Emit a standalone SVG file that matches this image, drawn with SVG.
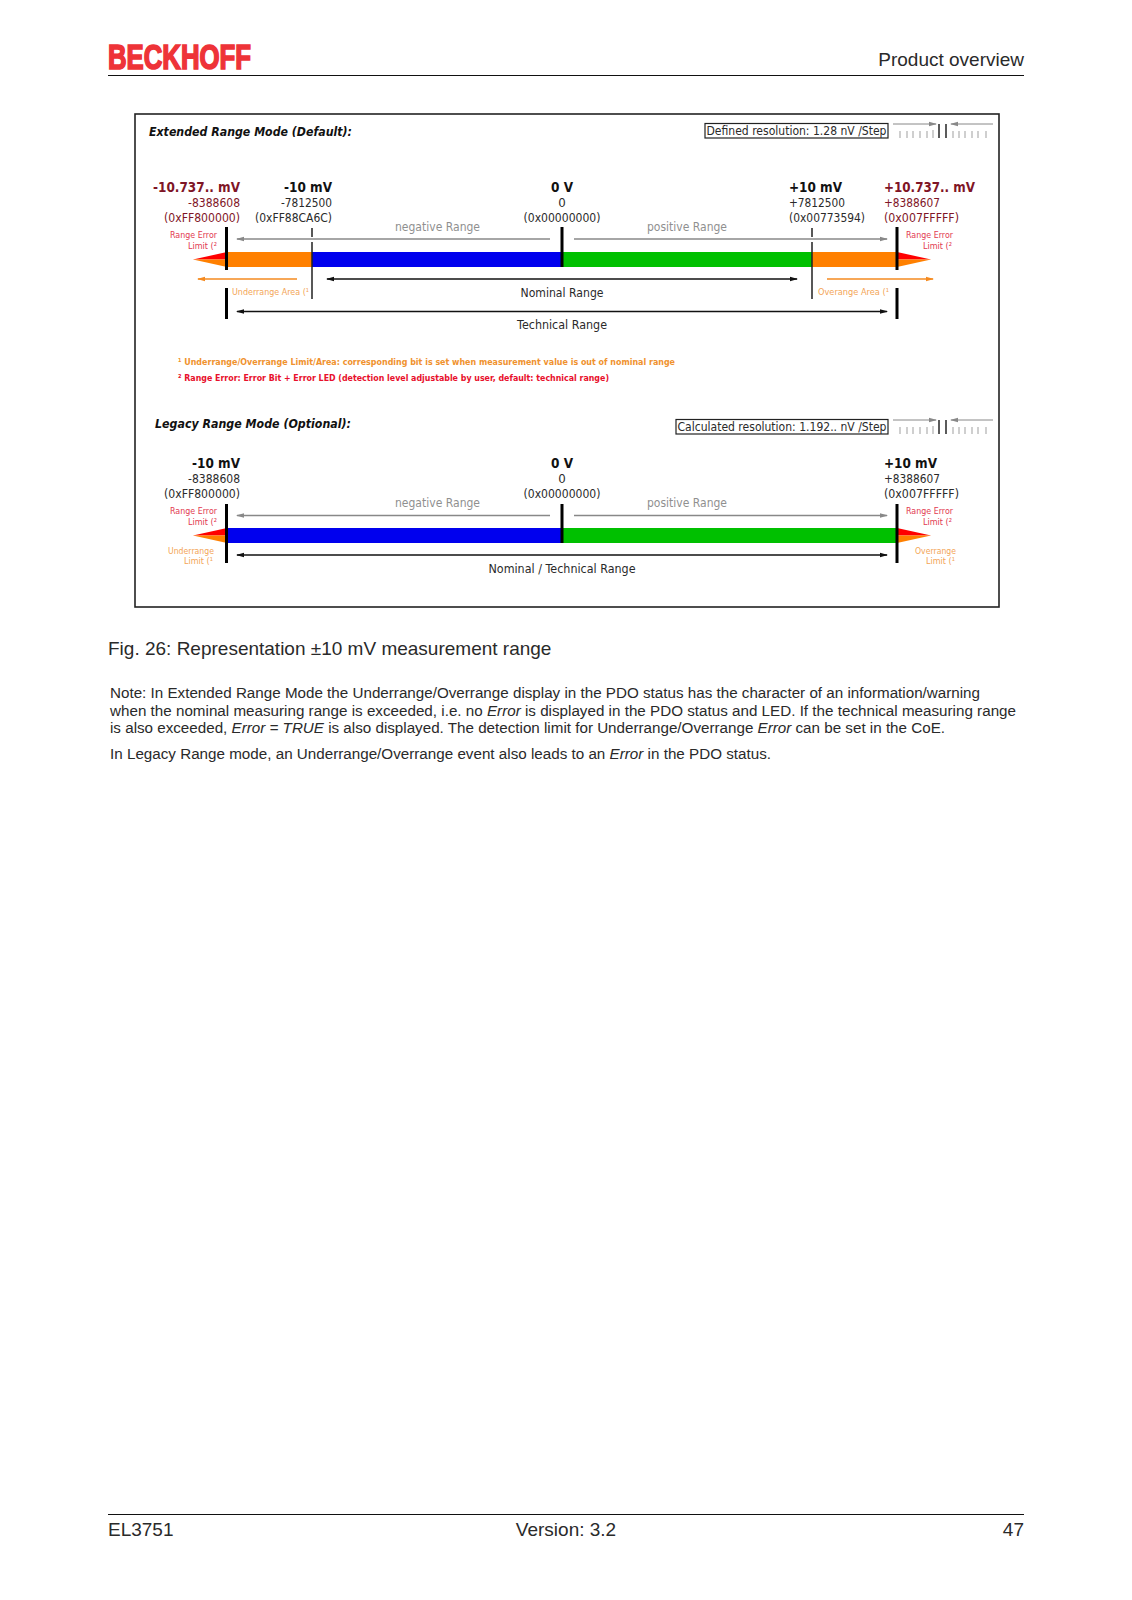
<svg xmlns="http://www.w3.org/2000/svg" width="1132" height="1600" viewBox="0 0 1132 1600">
<style>
.page{font-family:"Liberation Sans",Arial,sans-serif;fill:#2a2a2a}
.h{font-size:19px}
.n{font-size:15.2px}
.d{font-family:"DejaVu Sans",Verdana,sans-serif;font-size:11.8px;fill:#2a2a2a}
.b{font-family:"DejaVu Sans",Verdana,sans-serif;font-size:13.6px;font-weight:700;fill:#111}
.dr{fill:#7f1526}
.g{fill:#8f8f8f;font-size:12.4px}
.s{font-family:"DejaVu Sans",Verdana,sans-serif;font-size:8.8px}
.r{fill:#e23a50}
.o{fill:#f3a556}
.t{font-family:"DejaVu Sans",Verdana,sans-serif;font-size:13px;font-weight:700;font-style:italic;fill:#111}
.f{font-family:"DejaVu Sans",Verdana,sans-serif;font-size:8.8px;font-weight:700}
.e{text-anchor:end}
.m{text-anchor:middle}
.tk{stroke:#000;stroke-width:3;fill:none}
.th{stroke:#222;stroke-width:1.5;fill:none}
.ln{stroke-width:1.5;fill:none}
.box{fill:#fff;stroke:#222;stroke-width:1.2}
.tick{stroke:#b0b0b0;stroke-width:1.2}
</style>
<defs>
<marker id="ak" markerWidth="8" markerHeight="6" refX="7" refY="3" orient="auto-start-reverse" markerUnits="userSpaceOnUse"><path d="M0 .8L8 3L0 5.2z" fill="#111"/></marker>
<marker id="ag" markerWidth="8" markerHeight="6" refX="7" refY="3" orient="auto-start-reverse" markerUnits="userSpaceOnUse"><path d="M0 .8L8 3L0 5.2z" fill="#888"/></marker>
<marker id="ao" markerWidth="8" markerHeight="6" refX="7" refY="3" orient="auto-start-reverse" markerUnits="userSpaceOnUse"><path d="M0 .8L8 3L0 5.2z" fill="#f58a1f"/></marker>
</defs>
<rect width="1132" height="1600" fill="#fff"/>
<g id="header">
<text x="108" y="68.500" textLength="143" lengthAdjust="spacingAndGlyphs" font-family="Liberation Sans,Arial,sans-serif" font-size="34.5" font-weight="700" fill="#ee3338" stroke="#ee3338" stroke-width="1.7">BECKHOFF</text>
<text class="page h e" x="1024" y="65.500">Product overview</text>
<line x1="108" y1="75.500" x2="1024" y2="75.500" stroke="#111" stroke-width="1"/>
</g>
<rect id="frame" x="135" y="114" width="864" height="493" fill="#fff" stroke="#222" stroke-width="1.6"/>
<g id="extended-bar">
<rect x="227" y="252" width="85" height="15" fill="#ff8000"/>
<rect x="312" y="252" width="250" height="15" fill="#0000ee"/>
<rect x="562" y="252" width="250" height="15" fill="#00c000"/>
<rect x="812" y="252" width="85" height="15" fill="#ff8000"/>
<path d="M193 259.500L227 252V259.500z" fill="#f00"/><path d="M193 259.500L227 267V259.500z" fill="#ff8000"/>
<path d="M931 259.500L897 252V259.500z" fill="#f00"/><path d="M931 259.500L897 267V259.500z" fill="#ff8000"/>
</g>
<g id="legacy-bar">
<rect x="227" y="528" width="335" height="15" fill="#0000ee"/>
<rect x="562" y="528" width="335" height="15" fill="#00c000"/>
<path d="M193 535.500L227 528V535.500z" fill="#f00"/><path d="M193 535.500L227 543V535.500z" fill="#ff8000"/>
<path d="M931 535.500L897 528V535.500z" fill="#f00"/><path d="M931 535.500L897 543V535.500z" fill="#ff8000"/>
</g>
<g id="connectors">
<path class="tk" d="M226.500 227V270M226.500 288V319M562 227V267M897 227V270M897 288V319"/>
<path class="th" d="M312 228V237M312 242V299M812 228V237M812 242V299"/>
<path class="ln" stroke="#888" marker-end="url(#ag)" d="M550 239H237"/>
<path class="ln" stroke="#888" marker-end="url(#ag)" d="M574 239H887"/>
<path class="ln" stroke="#111" marker-start="url(#ak)" marker-end="url(#ak)" d="M327 279H797"/>
<path class="ln" stroke="#111" marker-start="url(#ak)" marker-end="url(#ak)" d="M237 311.500H887"/>
<path class="ln" stroke="#f58a1f" marker-end="url(#ao)" d="M297 279H198"/>
<path class="ln" stroke="#f58a1f" marker-end="url(#ao)" d="M827 279H933"/>
<path class="tk" d="M226.500 504V563M562 504V543M897 504V563"/>
<path class="ln" stroke="#888" marker-end="url(#ag)" d="M550 515.500H237"/>
<path class="ln" stroke="#888" marker-end="url(#ag)" d="M574 515.500H887"/>
<path class="ln" stroke="#111" marker-start="url(#ak)" marker-end="url(#ak)" d="M237 555H887"/>
</g>
<g id="extended-labels">
<text class="t" x="149" y="136" textLength="203" lengthAdjust="spacingAndGlyphs">Extended Range Mode (Default):</text>
<rect class="box" x="705" y="123.500" width="183" height="14.500"/>
<text class="d" x="706.500" y="135" textLength="180" lengthAdjust="spacingAndGlyphs">Defined resolution: 1.28 nV /Step</text>
<text class="b dr e" x="240" y="191.500" textLength="87" lengthAdjust="spacingAndGlyphs">-10.737.. mV</text>
<text class="d dr e" x="240" y="207" textLength="52" lengthAdjust="spacingAndGlyphs">-8388608</text>
<text class="d dr e" x="240" y="222" textLength="76" lengthAdjust="spacingAndGlyphs">(0xFF800000)</text>
<text class="b e" x="332" y="191.500" textLength="48" lengthAdjust="spacingAndGlyphs">-10 mV</text>
<text class="d e" x="332" y="207" textLength="51" lengthAdjust="spacingAndGlyphs">-7812500</text>
<text class="d e" x="332" y="222" textLength="77" lengthAdjust="spacingAndGlyphs">(0xFF88CA6C)</text>
<text class="b m" x="562" y="191.500" textLength="22" lengthAdjust="spacingAndGlyphs">0 V</text>
<text class="d m" x="562" y="207">0</text>
<text class="d m" x="562" y="222" textLength="77" lengthAdjust="spacingAndGlyphs">(0x00000000)</text>
<text class="b" x="789" y="191.500" textLength="53" lengthAdjust="spacingAndGlyphs">+10 mV</text>
<text class="d" x="789" y="207" textLength="56" lengthAdjust="spacingAndGlyphs">+7812500</text>
<text class="d" x="789" y="222" textLength="76" lengthAdjust="spacingAndGlyphs">(0x00773594)</text>
<text class="b dr" x="884" y="191.500" textLength="91" lengthAdjust="spacingAndGlyphs">+10.737.. mV</text>
<text class="d dr" x="884" y="207" textLength="56" lengthAdjust="spacingAndGlyphs">+8388607</text>
<text class="d dr" x="884" y="222" textLength="75" lengthAdjust="spacingAndGlyphs">(0x007FFFFF)</text>
<text class="d g" x="395" y="231" textLength="85" lengthAdjust="spacingAndGlyphs">negative Range</text>
<text class="d g" x="647" y="231" textLength="80" lengthAdjust="spacingAndGlyphs">positive Range</text>
<text class="s r e" x="217" y="238" textLength="47" lengthAdjust="spacingAndGlyphs">Range Error</text>
<text class="s r e" x="217" y="248.500" textLength="29" lengthAdjust="spacingAndGlyphs">Limit (²</text>
<text class="s r" x="906" y="238" textLength="47" lengthAdjust="spacingAndGlyphs">Range Error</text>
<text class="s r e" x="952" y="248.500" textLength="29" lengthAdjust="spacingAndGlyphs">Limit (²</text>
<text class="s o" x="232" y="295" textLength="77" lengthAdjust="spacingAndGlyphs">Underrange Area (¹</text>
<text class="s o" x="818" y="295" textLength="71" lengthAdjust="spacingAndGlyphs">Overange Area (¹</text>
<text class="d m" x="562" y="296.500" textLength="83" lengthAdjust="spacingAndGlyphs">Nominal Range</text>
<text class="d m" x="562" y="329" textLength="90" lengthAdjust="spacingAndGlyphs">Technical Range</text>
<text class="f" x="178" y="364.500" fill="#f0922e" textLength="497" lengthAdjust="spacingAndGlyphs">¹ Underrange/Overrange Limit/Area: corresponding bit is set when measurement value is out of nominal range</text>
<text class="f" x="178" y="381" fill="#e8102c" textLength="431" lengthAdjust="spacingAndGlyphs">² Range Error: Error Bit + Error LED (detection level adjustable by user, default: technical range)</text>
</g>
<g id="legacy-labels">
<text class="t" x="155" y="428" textLength="196" lengthAdjust="spacingAndGlyphs">Legacy Range Mode (Optional):</text>
<rect class="box" x="676" y="419.500" width="212" height="14.500"/>
<text class="d" x="677.500" y="431" textLength="209" lengthAdjust="spacingAndGlyphs">Calculated resolution: 1.192.. nV /Step</text>
<text class="b e" x="240" y="467.500" textLength="48" lengthAdjust="spacingAndGlyphs">-10 mV</text>
<text class="d e" x="240" y="483" textLength="52" lengthAdjust="spacingAndGlyphs">-8388608</text>
<text class="d e" x="240" y="498" textLength="76" lengthAdjust="spacingAndGlyphs">(0xFF800000)</text>
<text class="b m" x="562" y="467.500" textLength="22" lengthAdjust="spacingAndGlyphs">0 V</text>
<text class="d m" x="562" y="483">0</text>
<text class="d m" x="562" y="498" textLength="77" lengthAdjust="spacingAndGlyphs">(0x00000000)</text>
<text class="b" x="884" y="467.500" textLength="53" lengthAdjust="spacingAndGlyphs">+10 mV</text>
<text class="d" x="884" y="483" textLength="56" lengthAdjust="spacingAndGlyphs">+8388607</text>
<text class="d" x="884" y="498" textLength="75" lengthAdjust="spacingAndGlyphs">(0x007FFFFF)</text>
<text class="d g" x="395" y="507" textLength="85" lengthAdjust="spacingAndGlyphs">negative Range</text>
<text class="d g" x="647" y="507" textLength="80" lengthAdjust="spacingAndGlyphs">positive Range</text>
<text class="s r e" x="217" y="514" textLength="47" lengthAdjust="spacingAndGlyphs">Range Error</text>
<text class="s r e" x="217" y="524.500" textLength="29" lengthAdjust="spacingAndGlyphs">Limit (²</text>
<text class="s r" x="906" y="514" textLength="47" lengthAdjust="spacingAndGlyphs">Range Error</text>
<text class="s r e" x="952" y="524.500" textLength="29" lengthAdjust="spacingAndGlyphs">Limit (²</text>
<text class="s o e" x="214" y="554" textLength="46" lengthAdjust="spacingAndGlyphs">Underrange</text>
<text class="s o e" x="213" y="564" textLength="29" lengthAdjust="spacingAndGlyphs">Limit (¹</text>
<text class="s o e" x="956" y="554" textLength="41" lengthAdjust="spacingAndGlyphs">Overrange</text>
<text class="s o e" x="955" y="564" textLength="29" lengthAdjust="spacingAndGlyphs">Limit (¹</text>
<text class="d m" x="562" y="573" textLength="147" lengthAdjust="spacingAndGlyphs">Nominal / Technical Range</text>
</g>
<g id="scales">
<path d="M893 124H936" stroke="#888" stroke-width="1" marker-end="url(#ag)"/><path d="M993 124H951" stroke="#888" stroke-width="1" marker-end="url(#ag)"/>
<path class="tick" d="M900 131V138M907 131V138M913 131V138M920 131V138M927 131V138M933 130V138M953 131V138M959 131V138M965 131V138M972 131V138M978 131V138M986 131V138"/>
<path stroke="#333" stroke-width="1.6" d="M939 124V138M946 124V138"/>
<path d="M893 420H936" stroke="#888" stroke-width="1" marker-end="url(#ag)"/><path d="M993 420H951" stroke="#888" stroke-width="1" marker-end="url(#ag)"/>
<path class="tick" d="M900 427V434M907 427V434M913 427V434M920 427V434M927 427V434M933 426V434M953 427V434M959 427V434M965 427V434M972 427V434M978 427V434M986 427V434"/>
<path stroke="#333" stroke-width="1.6" d="M939 420V434M946 420V434"/>
</g>
<g id="body">
<text class="page h" x="108" y="655">Fig. 26: Representation ±10 mV measurement range</text>
<text class="page n" x="110" y="698" textLength="870">Note: In Extended Range Mode the Underrange/Overrange display in the PDO status has the character of an information/warning</text>
<text class="page n" x="110" y="716" textLength="906">when the nominal measuring range is exceeded, i.e. no <tspan font-style="italic">Error</tspan> is displayed in the PDO status and LED. If the technical measuring range</text>
<text class="page n" x="110" y="733" textLength="835">is also exceeded, <tspan font-style="italic">Error = TRUE</tspan> is also displayed. The detection limit for Underrange/Overrange <tspan font-style="italic">Error</tspan> can be set in the CoE.</text>
<text class="page n" x="110" y="759" textLength="661">In Legacy Range mode, an Underrange/Overrange event also leads to an <tspan font-style="italic">Error</tspan> in the PDO status.</text>
</g>
<g id="footer">
<line x1="108" y1="1514.500" x2="1024" y2="1514.500" stroke="#111" stroke-width="1"/>
<text class="page h" x="108" y="1536">EL3751</text>
<text class="page h m" x="566" y="1536">Version: 3.2</text>
<text class="page h e" x="1024" y="1536">47</text>
</g>
</svg>
